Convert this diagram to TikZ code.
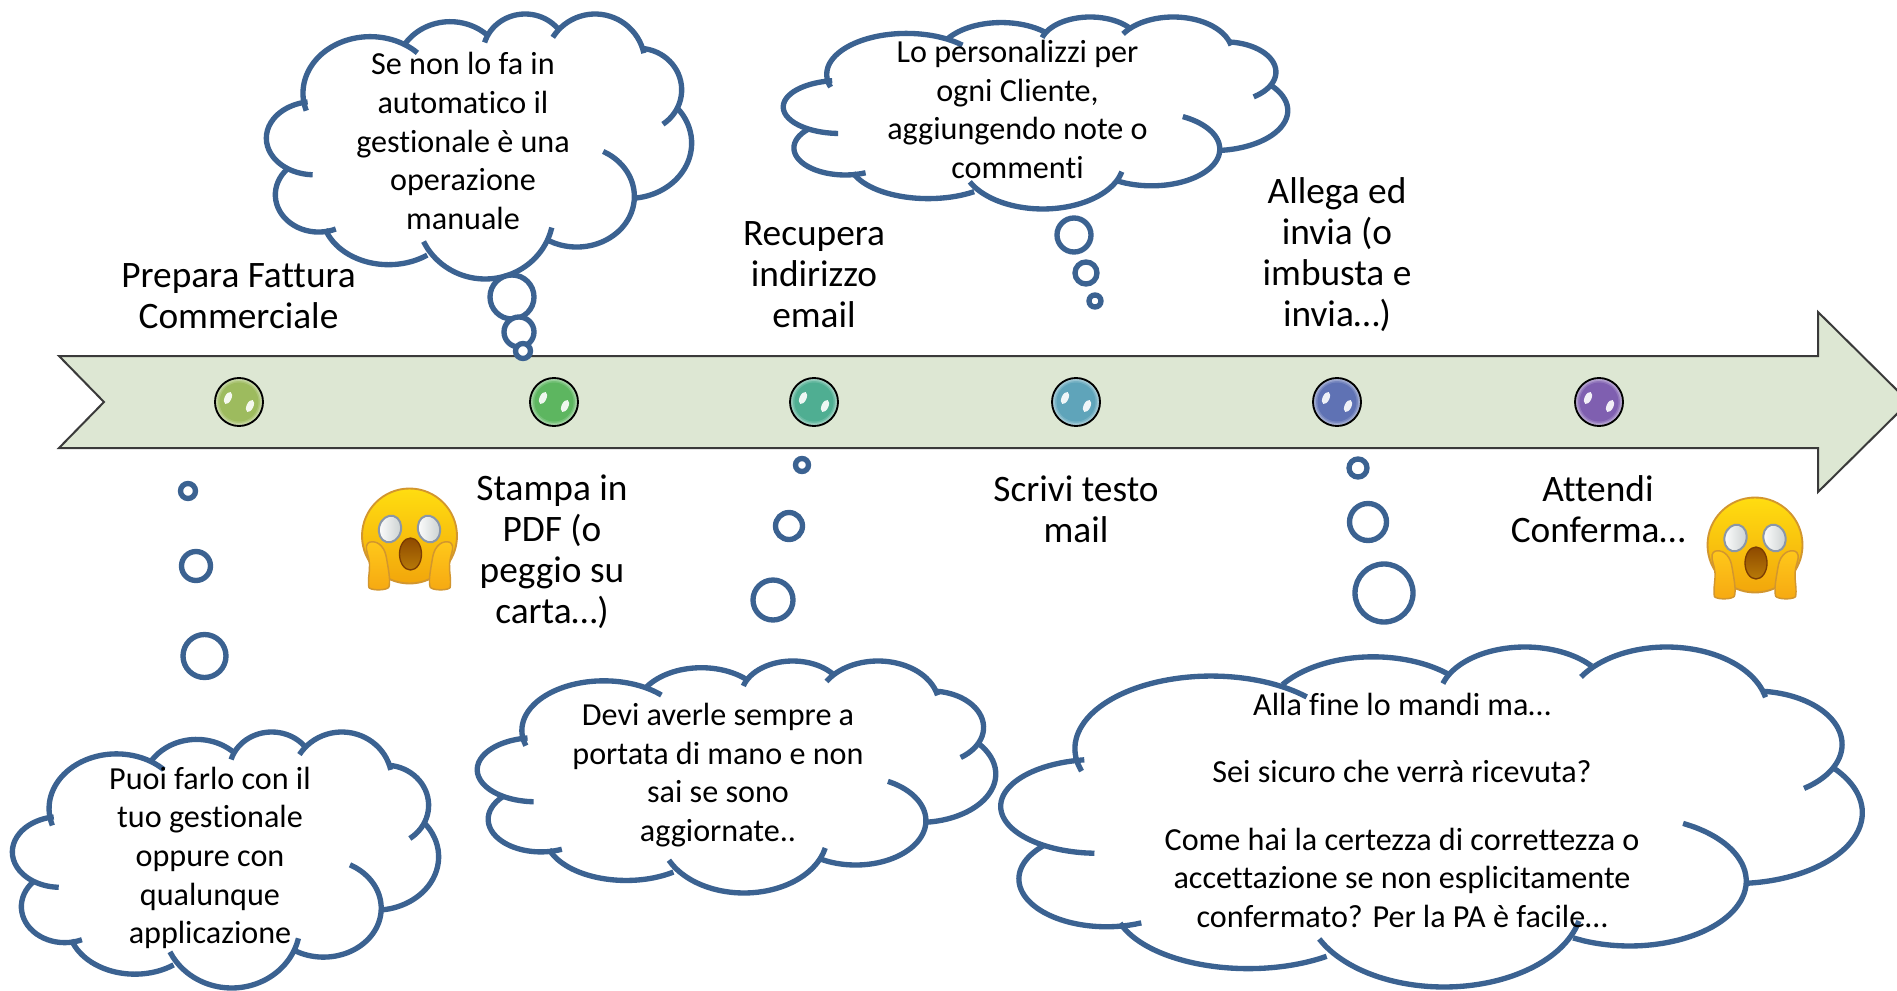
\documentclass[tikz,border=0pt]{standalone}
\usepackage{fontspec}
\setmainfont[Ligatures={NoCommon}]{Carlito}
\definecolor{cloudblue}{HTML}{3B6291}
\definecolor{arrowfill}{HTML}{DDE7D3}
\definecolor{arrowline}{HTML}{3A3A3A}
\tikzset{
  cloudline/.style={draw=cloudblue,line width=4pt},
  puff/.style={draw=cloudblue,line width=4pt,fill=white},
  label/.style={align=center,inner sep=0pt,font=\fontsize{28}{30.8}\selectfont,text=black},
  say/.style={align=center,inner sep=0pt,font=\fontsize{24.1}{29}\selectfont,text=black},
}
\newcommand{\lobe}[6]{\draw[cloudline] plot[variable=\t,domain=#5:#6,samples=28,smooth] ({#1+#3*cos(\t)},{#2+#4*sin(\t)});}
\newcommand{\cloudat}[4]{%
\pgfmathsetmacro{\cloudx}{(#3-#1)*0.75/1273}%
\pgfmathsetmacro{\cloudy}{(#4-#2)*0.75/796}%
\begin{scope}[shift={(#1,#2)}]
\begin{scope}[x=\cloudx pt,y=-\cloudy pt,shift={(-80,-42)}]
\lobe{390}{280}{202}{170}{162}{314.5}
\lobe{630}{215}{163}{150}{214.4}{312.6}
\lobe{855}{162}{127}{120}{196.7}{320.8}
\lobe{1065}{192}{150}{150}{212.2}{347.6}
\lobe{1195}{270}{130}{125}{274.4}{415.5}
\lobe{1165}{430}{190}{166}{-39.5}{84}
\lobe{1010}{590}{173}{152}{-62.7}{118.9}
\lobe{735}{640}{205}{198}{12.7}{154.4}
\lobe{445}{640}{200}{155}{54.5}{161.7}
\lobe{235}{585}{130}{112}{66.7}{224}
\lobe{222}{415}{144}{110}{92}{262}
\end{scope}
\end{scope}}
\newcommand{\ballat}[3]{%
\begin{scope}[shift={(#1,#2)}]
\fill[#3!45!white] (0,0) circle (24);
\fill[#3!65!white] (0,0) circle (22.5);
\fill[#3!85!white] (0,0) circle (21);
\fill[#3] (0,0) circle (19.5);
\draw[black,line width=1.4pt] (0,0) circle (24);
\fill[white,opacity=.9,rotate around={-25:(-11,-4)}] (-11,-4) ellipse [x radius=3.4,y radius=6.5];
\fill[white,opacity=.9,rotate around={-25:(11,4)}] (11,4) ellipse [x radius=3.4,y radius=6.5];
\end{scope}}
\newcommand{\scream}[2]{%
\begin{scope}[shift={(#1,#2)}]
\shade[top color=FaceA,bottom color=FaceB] (0,0) circle (47.5);
\draw[draw=FaceC,line width=1.4pt] (0,0) circle (47.5);
\foreach \r/\a in {-19.5/-15,19.5/15}{
 \shade[left color=white,right color=EyeB,rotate around={\a:(\r,-7)}] (\r,-7) ellipse [x radius=11,y radius=13.5];
 \draw[draw=EyeC,line width=1.5pt,rotate around={\a:(\r,-7)}] (\r,-7) ellipse [x radius=11,y radius=13.5];}
\shade[top color=MouthA,bottom color=MouthB] (1,18) ellipse [x radius=11,y radius=16];
\draw[draw=MouthC,line width=1pt] (1,18) ellipse [x radius=11,y radius=16];
\foreach \m in {1,-1}{
 \begin{scope}[xscale=\m]
 \draw[draw=FaceC,line width=1.1pt,top color=HandA,bottom color=HandB] plot[smooth cycle,tension=0.7] coordinates {(-43,10)(-35,6)(-26,13)(-22,28)(-20,47)(-24,53)(-38,53)(-41,47)(-40,28)};
 \end{scope}}
\end{scope}}
\definecolor{FaceA}{HTML}{FFDD10}
\definecolor{FaceB}{HTML}{F2A60C}
\definecolor{FaceC}{HTML}{D2962E}
\definecolor{HandA}{HTML}{FFC81A}
\definecolor{HandB}{HTML}{F6A912}
\definecolor{EyeB}{HTML}{C9CFCF}
\definecolor{EyeC}{HTML}{8A96A8}
\definecolor{MouthA}{HTML}{8E4A00}
\definecolor{MouthB}{HTML}{B87A08}
\definecolor{MouthC}{HTML}{7A3C04}
\definecolor{ballA}{HTML}{9DBB5E}
\definecolor{ballB}{HTML}{5DB660}
\definecolor{ballC}{HTML}{4FAE92}
\definecolor{ballD}{HTML}{5FA4BA}
\definecolor{ballE}{HTML}{5F72B4}
\definecolor{ballF}{HTML}{7F5FB0}
\begin{document}
\begin{tikzpicture}[x=0.75pt,y=-0.75pt]
\useasboundingbox (0,0) rectangle (1897,991);
\clip (0,0) rectangle (1897,991);
\fill[white] (0,0) rectangle (1897,991);
% arrow
\draw[fill=arrowfill,draw=arrowline,line width=1.5pt,line join=miter]
 (59,356) -- (1818,356) -- (1818,312) -- (1909,402) -- (1818,492) -- (1818,448) -- (59,448) -- (104,402) -- cycle;
% balls
\ballat{239}{402}{ballA}
\ballat{554}{402}{ballB}
\ballat{814}{402}{ballC}
\ballat{1076}{402}{ballD}
\ballat{1337}{402}{ballE}
\ballat{1599}{402}{ballF}
% clouds
\cloudat{267}{14}{691}{279}
\cloudat{13}{732}{438}{988}
\cloudat{478}{661}{995}{893}
\cloudat{784}{17}{1287}{209}
\cloudat{1002}{647}{1861}{987}
% tails
\draw[puff] (512,297) circle (22);
\draw[puff] (519,332) circle (15);
\draw[puff] (523,351) circle (7.5);
\draw[puff] (188,491) circle (7.5);
\draw[puff] (196,566) circle (14.5);
\draw[puff] (204.5,656) circle (21.5);
\draw[puff] (802,465) circle (6.5);
\draw[puff] (789,526) circle (13.5);
\draw[puff] (773,600) circle (20);
\draw[puff] (1074,235) circle (17);
\draw[puff] (1086,273) circle (11);
\draw[puff] (1095,301) circle (6);
\draw[puff] (1358,468) circle (9);
\draw[puff] (1368,522) circle (18.5);
\draw[puff] (1384,593) circle (29);
% emoji
\scream{409.5}{536}
\scream{1755}{545}
% labels
\node[label] (l1) at (238.5,296) {Prepara Fattura\\Commerciale};
\node[label] (l2) at (552,551.5) {Stampa in\\PDF (o\\peggio su\\carta…)};
\node[label] (l3) at (814,275) {Recupera\\indirizzo\\email};
\node[label] (l4) at (1076,509) {Scrivi testo\\mail};
\node[label] (l5) at (1337,255) {Allega ed\\invia (o\\imbusta e\\invia…)};
\node[label] (l6) at (1598,509) {Attendi\\Conferma…};
% cloud texts
\node[say] (c1) at (463,141) {Se non lo fa in\\automatico il\\gestionale è una\\operazione\\manuale};
\node[say] (c2) at (210,858) {Puoi farlo con il\\tuo gestionale\\oppure con\\qualunque\\applicazione};
\node[say] (c3) at (718,775) {Devi averle sempre a\\portata di mano e non\\sai se sono\\aggiornate..};
\node[say] (c5) at (1017.5,109.5) {Lo personalizzi per\\ogni Cliente,\\aggiungendo note o\\commenti};
\node[say] (c4) at (1402,810.5) {Alla fine lo mandi ma…\\[21pt]Sei sicuro che verrà ricevuta?\\[22pt]Come hai la certezza di correttezza o\\accettazione se non esplicitamente\\confermato? Per la PA è facile…};
\end{tikzpicture}
\end{document}
